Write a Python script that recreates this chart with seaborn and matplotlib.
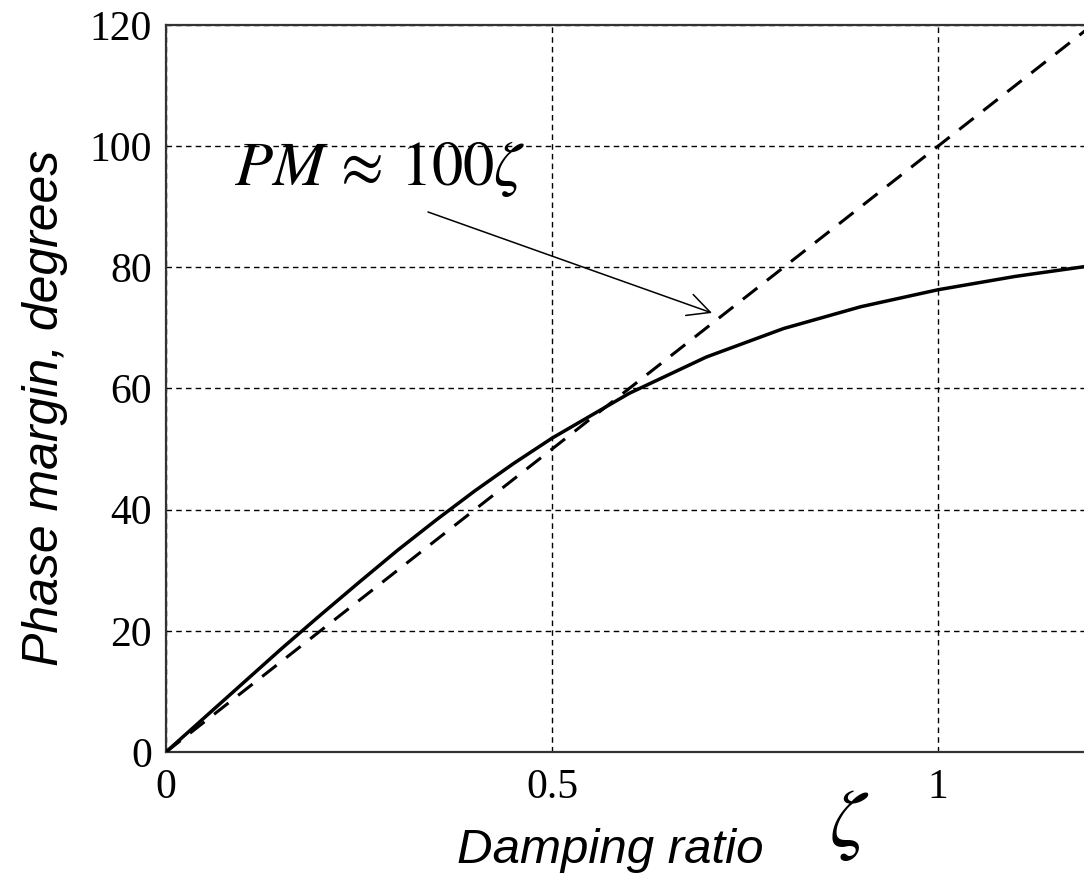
import numpy as np
import pandas as pd
import matplotlib
matplotlib.use("Agg")
import matplotlib.pyplot as plt
import seaborn as sns

# ---- data ----
zeta = [0.0, 0.05, 0.1, 0.15, 0.2, 0.25, 0.3, 0.35, 0.4, 0.45, 0.5,
        0.6, 0.7, 0.8, 0.9, 1.0, 1.1, 1.2]
phase_margin = [0.0, 5.7, 11.4, 17.1, 22.6, 28.0, 33.3, 38.3, 43.1, 47.6, 51.8,
                59.2, 65.2, 69.9, 73.5, 76.3, 78.5, 80.3]
approx_zeta = [0.0, 1.2]
approx_pm = [0.0, 120.0]
x_ticks = [0, 0.5, 1]
x_tick_labels = ["0", "0.5", "1"]
y_ticks = [0, 20, 40, 60, 80, 100, 120]
y_tick_labels = ["0", "20", "40", "60", "80", "100", "120"]

sns.set_theme(style="white")
plt.rcParams["font.family"] = ["Liberation Serif", "DejaVu Serif"]
plt.rcParams["mathtext.fontset"] = "stix"

fig = plt.figure(figsize=(10.84, 8.8), dpi=100)
ax = fig.add_axes([166 / 1084, 128 / 880, 1 - 166 / 1084, (752 - 25) / 880])

df_exact = pd.DataFrame({"zeta": zeta, "pm": phase_margin})
df_approx = pd.DataFrame({"zeta": approx_zeta, "pm": approx_pm})

sns.lineplot(data=df_exact, x="zeta", y="pm", ax=ax, color="black",
             linewidth=2.5, zorder=3)
sns.lineplot(data=df_approx, x="zeta", y="pm", ax=ax, color="black",
             linewidth=2.2, linestyle=(0, (6, 4)), zorder=3)

ax.set_xlim(0, (1084 - 166) / 772)
ax.set_ylim(0, 120)
ax.set_xticks(x_ticks)
ax.set_xticklabels(x_tick_labels)
ax.set_yticks(y_ticks)
ax.set_yticklabels(y_tick_labels)

ax.grid(True, color="black", linestyle=(0, (4, 3)), linewidth=1.0)
ax.tick_params(axis="both", direction="in", length=7, width=1.2,
               color="#222222", labelsize=30, labelcolor="black")
ax.tick_params(axis="y", pad=10)
ax.tick_params(axis="x", pad=12)

for side in ["left", "top", "bottom"]:
    ax.spines[side].set_visible(True)
    ax.spines[side].set_color("#333333")
    ax.spines[side].set_linewidth(1.6)
ax.spines["right"].set_visible(False)

ax.set_xlabel("Damping ratio", fontfamily="Liberation Sans", fontstyle="italic",
              fontsize=35.5, color="black", va="center")
ax.xaxis.set_label_coords((610 - 166) / 918, (752 - 850) / 727)
ax.set_ylabel("Phase margin, degrees", fontfamily="Liberation Sans",
              fontstyle="italic", fontsize=36, color="black", va="center")
ax.yaxis.set_label_coords((45 - 166) / 918, (752 - 408) / 727)

fig.text(849 / 1084, 1 - 825 / 880, r"$\zeta$", fontsize=58,
         ha="center", va="center", color="black")

ax.text((380 - 166) / 772, (752 - 185) / 6.058, r"$PM\,\approx\,100\zeta$",
        ha="center", va="baseline", fontsize=45, color="black", zorder=4)
ax.annotate("",
            xy=((712 - 166) / 772, (752 - 313) / 6.058),
            xytext=((428 - 166) / 772, (752 - 212) / 6.058),
            arrowprops=dict(arrowstyle="->", color="black", lw=1.1,
                            mutation_scale=40, shrinkA=0, shrinkB=0),
            zorder=4)

fig.savefig("out.png", dpi=100, facecolor="white")
